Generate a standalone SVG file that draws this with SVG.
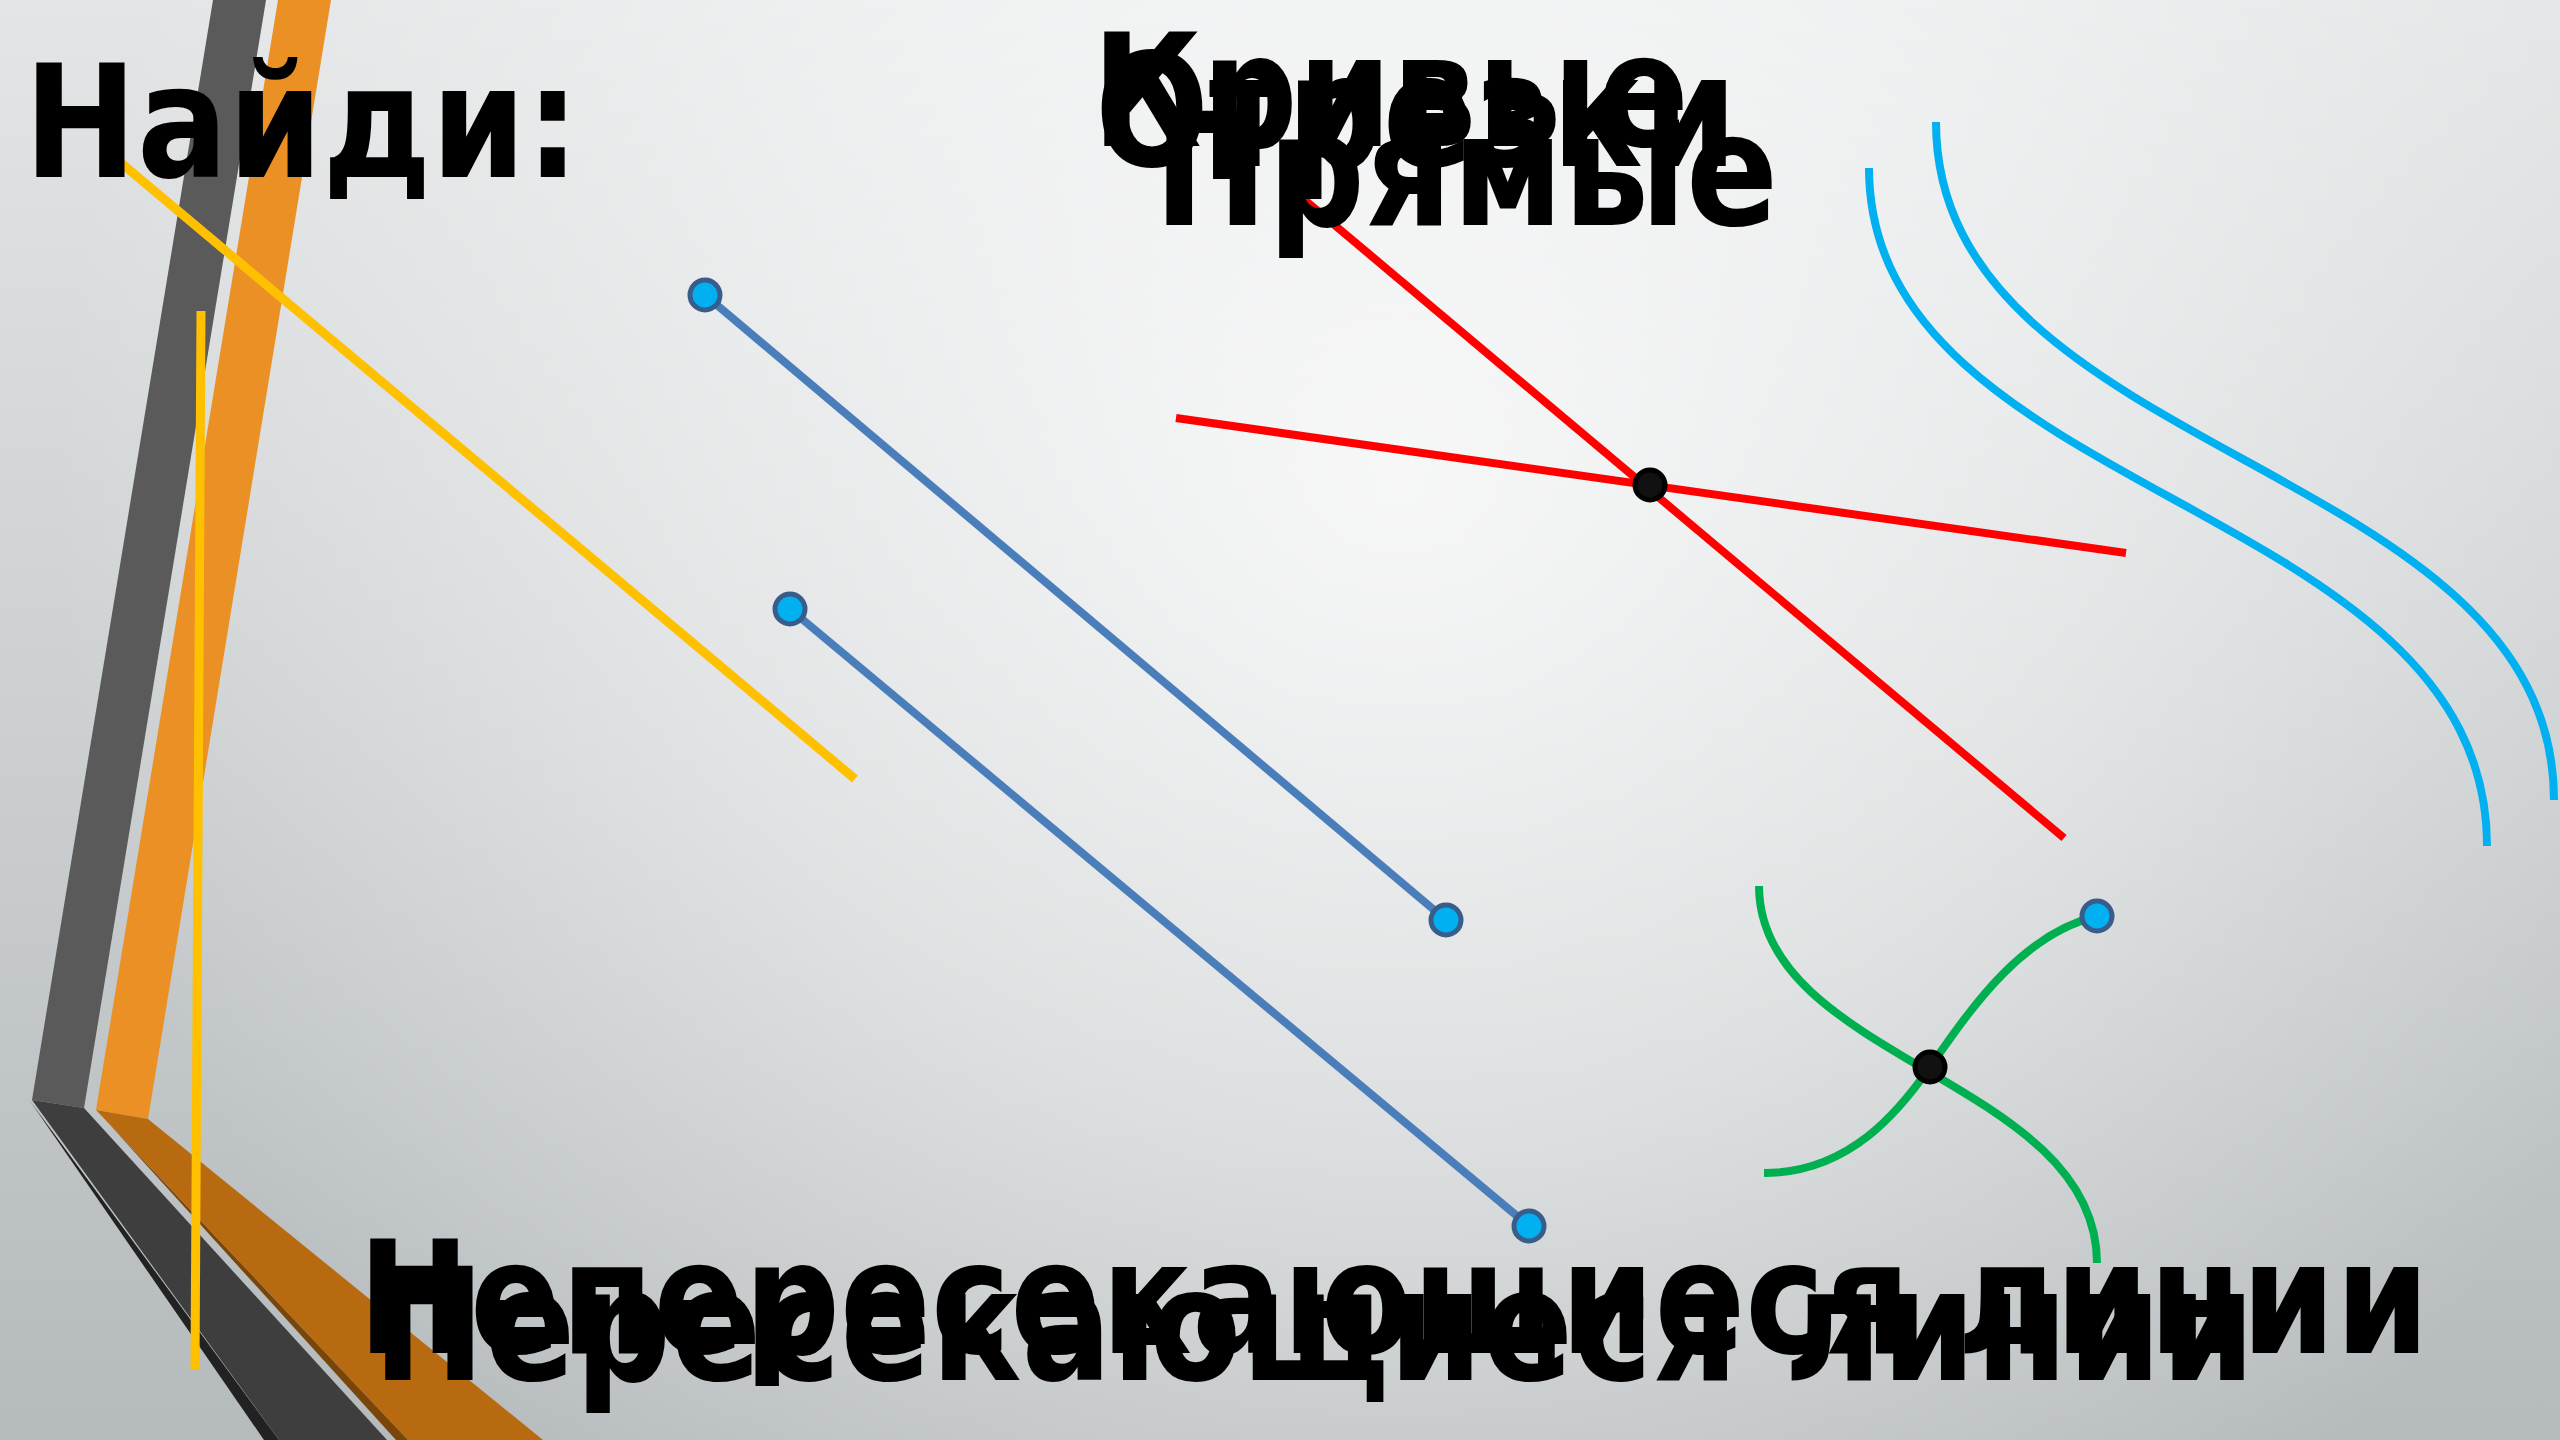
<svg xmlns="http://www.w3.org/2000/svg" width="2560" height="1440" viewBox="0 0 2560 1440">
<defs>
<linearGradient id="bgLin" x1="0" y1="0" x2="0" y2="1440" gradientUnits="userSpaceOnUse">
<stop offset="0" stop-color="#e3e5e6"/>
<stop offset="1" stop-color="#b5babc"/>
</linearGradient>
<radialGradient id="bgRad" cx="1400" cy="480" r="1350" gradientUnits="userSpaceOnUse">
<stop offset="0" stop-color="#ffffff" stop-opacity="0.8"/>
<stop offset="0.5" stop-color="#ffffff" stop-opacity="0.45"/>
<stop offset="1" stop-color="#ffffff" stop-opacity="0"/>
</radialGradient>
</defs>
<style>
.t{font-family:"DejaVu Sans Condensed","DejaVu Sans",sans-serif;font-stretch:condensed;font-weight:bold;font-size:157px;fill:#000;}
.seg{stroke:#4A7EBB;stroke-width:8;fill:none;}
.end{fill:#00B0F0;stroke:#385D8A;stroke-width:5;}
.dot{fill:#111;stroke:#000;stroke-width:5;}
.red{stroke:#FF0000;stroke-width:8;fill:none;}
.cyan{stroke:#00B0F0;stroke-width:8;fill:none;}
.green{stroke:#00B050;stroke-width:8;fill:none;}
.yel{stroke:#FFC000;stroke-width:9;fill:none;}
</style>
<rect width="2560" height="1440" fill="url(#bgLin)"/>
<rect width="2560" height="1440" fill="url(#bgRad)"/>
<g id="stripes">
<polygon points="213,0 266,0 84,1108 32,1100" fill="#5A5A5A"/>
<polygon points="32,1100 84,1108 387,1440 279,1440" fill="#3E3E3E"/>
<polygon points="30,1101 279,1440 264,1440" fill="#222222"/>
<polygon points="278,0 331,0 148,1119 96,1110" fill="#EA9024"/>
<polygon points="96,1110 148,1119 543,1440 408,1440" fill="#B76A10"/>
<polygon points="110,1125 408,1440 396,1440" fill="#7A4508"/>
</g>
<g id="connectors">
<line id="yellow-diag" class="yel" x1="102" y1="147" x2="855" y2="779"/>
<line id="yellow-vert" class="yel" x1="201" y1="311" x2="195" y2="1369"/>
<line id="seg1" class="seg" x1="692" y1="284" x2="1446" y2="920"/>
<line id="seg2" class="seg" x1="790" y1="609" x2="1529" y2="1226"/>
<line id="red1" class="red" x1="1300" y1="196" x2="2064" y2="838"/>
<line id="red2" class="red" x1="1176" y1="418" x2="2126" y2="553"/>
<path id="cyan1" class="cyan" d="M1869,168 C1869,500 2487,500 2487,846"/>
<path id="cyan2" class="cyan" d="M1936,122 C1936,460 2554,460 2554,800"/>
<path id="greenA" class="green" d="M1759,886 C1759,1060 2097,1080 2097,1263"/>
<path id="greenB" class="green" d="M1764,1173 C1850,1173 1900,1110 1930,1067 C1970,1010 2020,935 2097,916"/>
</g>
<g id="points">
<circle id="p1" class="end" cx="705" cy="295" r="15"/>
<circle id="p2" class="end" cx="1446" cy="920" r="15"/>
<circle id="p3" class="end" cx="790" cy="609" r="15"/>
<circle id="p4" class="end" cx="1529" cy="1226" r="15"/>
<circle id="p5" class="end" cx="2097" cy="916" r="15"/>
<circle id="x1" class="dot" cx="1650" cy="485" r="15"/>
<circle id="x2" class="dot" cx="1930" cy="1067" r="15"/>
</g>
<g id="labels">
<text id="find" class="t" transform="translate(24,177) scale(0.955,1)">Найди:</text>
<text id="curves" class="t" transform="translate(1092,146) scale(0.95,1)">Кривые</text>
<text id="segments" class="t" transform="translate(1095,166) scale(0.95,1)">Отрезки</text>
<text id="straight" class="t" transform="translate(1154,225) scale(0.962,1)">Прямые</text>
<text id="nonint" class="t" transform="translate(358,1353) scale(0.948,1)">Непересекающиеся линии</text>
<text id="inter" class="t" transform="translate(373,1380) scale(0.945,1)">Пересекающиеся линии</text>
</g>
</svg>
